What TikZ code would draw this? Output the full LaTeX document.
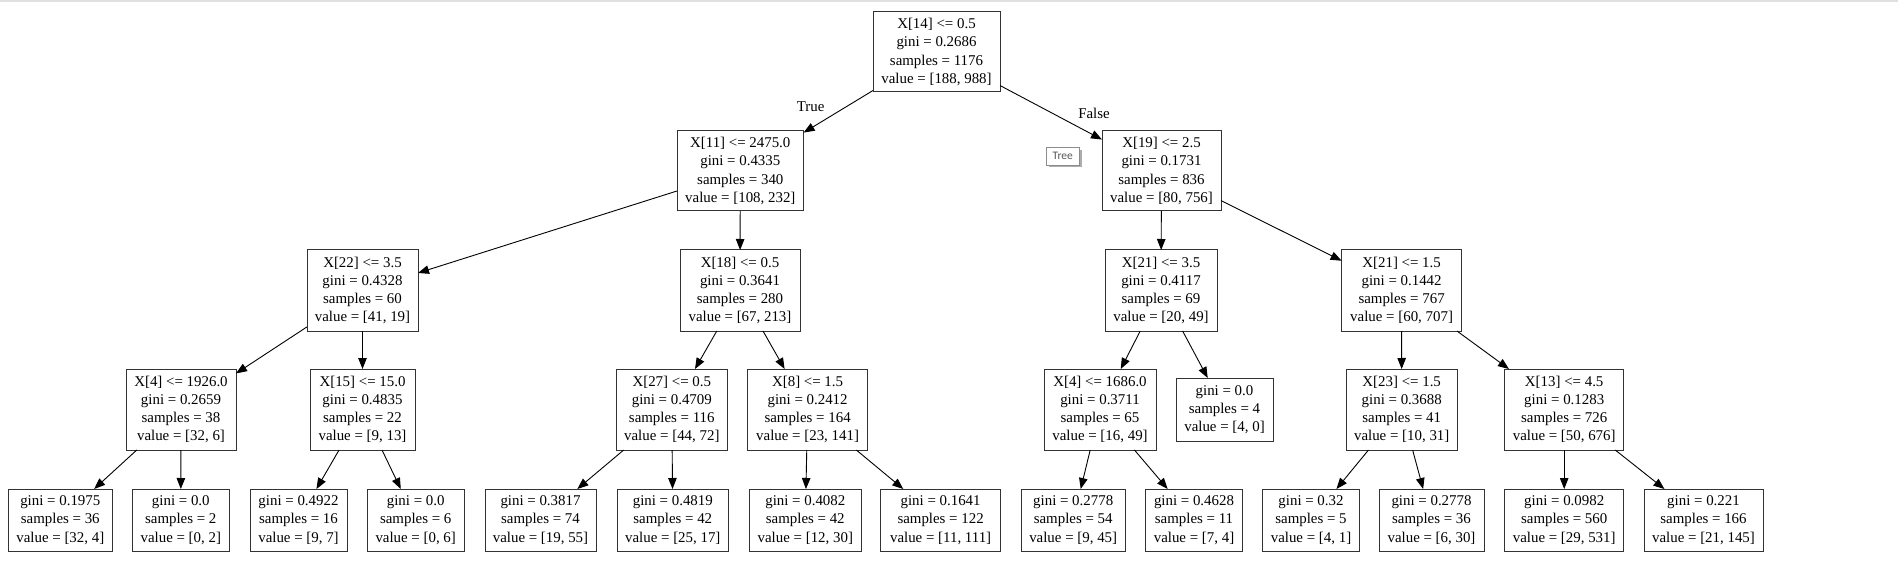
\documentclass[tikz,border=0pt]{standalone}
\usepackage{fontspec}
\setmainfont{Liberation Serif}
\newfontfamily\tipfont{Carlito}
\usetikzlibrary{arrows.meta,shadows}
\definecolor{boxline}{HTML}{333333}
\definecolor{tiptext}{HTML}{575757}
\begin{document}
\begin{tikzpicture}[x=1pt,y=-1pt,
  tbox/.style={draw=boxline, line width=1pt, rectangle, inner sep=0pt, outer sep=0pt,
    align=center, font=\fontsize{14.9}{18.2}\selectfont, minimum height=81pt},
  lbox/.style={tbox, minimum height=62pt},
  edge/.style={draw=black, line width=0.9pt, -{Triangle[length=11pt,width=8.5pt]}},
  elabel/.style={font=\fontsize{14.9}{18.2}\selectfont, inner sep=0pt},
  tooltip/.style={draw=black!45, line width=0.8pt, fill=white, inner sep=0pt,
    minimum width=33.3pt, minimum height=17.3pt, text=tiptext,
    font=\tipfont\fontsize{11.5}{13}\selectfont,
    drop shadow={shadow xshift=2.5pt, shadow yshift=-2.5pt, fill=black!40, opacity=0.8}}]
\useasboundingbox (0,0) rectangle (1898,561);
\draw[black!12, line width=1.5pt] (0,1) -- (1898,1);

% level 0
\node[tbox, minimum width=127pt, minimum height=80pt] (root) at (936.5,52) {X[14] <= 0.5\\gini = 0.2686\\samples = 1176\\value = [188, 988]};
% level 1
\node[tbox, minimum width=126.6pt, minimum height=80pt] (n11) at (740.3,171) {X[11] <= 2475.0\\gini = 0.4335\\samples = 340\\value = [108, 232]};
\node[tbox, minimum width=119pt, minimum height=80pt] (n19) at (1161.5,171) {X[19] <= 2.5\\gini = 0.1731\\samples = 836\\value = [80, 756]};
% level 2
\node[tbox, minimum width=111pt] (n22) at (362.5,290.5) {X[22] <= 3.5\\gini = 0.4328\\samples = 60\\value = [41, 19]};
\node[tbox, minimum width=120pt] (n18) at (740,290.5) {X[18] <= 0.5\\gini = 0.3641\\samples = 280\\value = [67, 213]};
\node[tbox, minimum width=112pt] (n21a) at (1161,290.5) {X[21] <= 3.5\\gini = 0.4117\\samples = 69\\value = [20, 49]};
\node[tbox, minimum width=120pt] (n21b) at (1401.6,290.5) {X[21] <= 1.5\\gini = 0.1442\\samples = 767\\value = [60, 707]};
% level 3
\node[tbox, minimum width=110pt] (n4a) at (181,409.5) {X[4] <= 1926.0\\gini = 0.2659\\samples = 38\\value = [32, 6]};
\node[tbox, minimum width=105pt] (n15) at (362.5,409.5) {X[15] <= 15.0\\gini = 0.4835\\samples = 22\\value = [9, 13]};
\node[tbox, minimum width=110.5pt] (n27) at (671.8,409.5) {X[27] <= 0.5\\gini = 0.4709\\samples = 116\\value = [44, 72]};
\node[tbox, minimum width=119.6pt] (n8) at (807.6,409.5) {X[8] <= 1.5\\gini = 0.2412\\samples = 164\\value = [23, 141]};
\node[tbox, minimum width=112pt] (n4b) at (1100,409.5) {X[4] <= 1686.0\\gini = 0.3711\\samples = 65\\value = [16, 49]};
\node[lbox, minimum width=97pt, minimum height=63pt] (l4) at (1224.5,409.5) {gini = 0.0\\samples = 4\\value = [4, 0]};
\node[tbox, minimum width=111.4pt] (n23) at (1401.7,409.5) {X[23] <= 1.5\\gini = 0.3688\\samples = 41\\value = [10, 31]};
\node[tbox, minimum width=119.5pt] (n13) at (1564.2,409.5) {X[13] <= 4.5\\gini = 0.1283\\samples = 726\\value = [50, 676]};
% level 4
\node[lbox, minimum width=104.5pt] (la) at (60.3,520) {gini = 0.1975\\samples = 36\\value = [32, 4]};
\node[lbox, minimum width=96.4pt] (lb) at (180.8,520) {gini = 0.0\\samples = 2\\value = [0, 2]};
\node[lbox, minimum width=97pt] (lc) at (298.5,520) {gini = 0.4922\\samples = 16\\value = [9, 7]};
\node[lbox, minimum width=96.6pt] (ld) at (415.7,520) {gini = 0.0\\samples = 6\\value = [0, 6]};
\node[lbox, minimum width=111pt] (le) at (540.5,520) {gini = 0.3817\\samples = 74\\value = [19, 55]};
\node[lbox, minimum width=111.6pt] (lf) at (672.8,520) {gini = 0.4819\\samples = 42\\value = [25, 17]};
\node[lbox, minimum width=111.4pt] (lg) at (805.3,520) {gini = 0.4082\\samples = 42\\value = [12, 30]};
\node[lbox, minimum width=119.6pt] (lh) at (940.6,520) {gini = 0.1641\\samples = 122\\value = [11, 111]};
\node[lbox, minimum width=104.4pt] (li) at (1073.2,520) {gini = 0.2778\\samples = 54\\value = [9, 45]};
\node[lbox, minimum width=97pt] (lj) at (1194,520) {gini = 0.4628\\samples = 11\\value = [7, 4]};
\node[lbox, minimum width=96.2pt] (lk) at (1311,520) {gini = 0.32\\samples = 5\\value = [4, 1]};
\node[lbox, minimum width=105pt] (ll) at (1431.5,520) {gini = 0.2778\\samples = 36\\value = [6, 30]};
\node[lbox, minimum width=119.5pt] (lm) at (1564.2,520) {gini = 0.0982\\samples = 560\\value = [29, 531]};
\node[lbox, minimum width=119pt] (ln) at (1703.5,520) {gini = 0.221\\samples = 166\\value = [21, 145]};

% edge labels
\node[elabel] (tlab) at (810.7,106.5) {True};
\node[elabel] (flab) at (1094,113) {False};

% edges
\draw[edge] (root) -- (n11);
\draw[edge] (root) -- (n19);
\draw[edge] (n11) -- (n22);
\draw[edge] (n11) -- (n18);
\draw[edge] (n22) -- (n4a);
\draw[edge] (n22) -- (n15);
\draw[edge] (n4a) -- (la);
\draw[edge] (n4a) -- (lb);
\draw[edge] (n15) -- (lc);
\draw[edge] (n15) -- (ld);
\draw[edge] (n18) -- (n27);
\draw[edge] (n18) -- (n8);
\draw[edge] (n27) -- (le);
\draw[edge] (n27) -- (lf);
\draw[edge] (n8) -- (lg);
\draw[edge] (n8) -- (lh);
\draw[edge] (n19) -- (n21a);
\draw[edge] (n19) -- (n21b);
\draw[edge] (n21a) -- (n4b);
\draw[edge] (n21a) -- (l4);
\draw[edge] (n4b) -- (li);
\draw[edge] (n4b) -- (lj);
\draw[edge] (n21b) -- (n23);
\draw[edge] (n21b) -- (n13);
\draw[edge] (n23) -- (lk);
\draw[edge] (n23) -- (ll);
\draw[edge] (n13) -- (lm);
\draw[edge] (n13) -- (ln);

% tooltip
\node[tooltip] (tip) at (1062.7,156.3) {Tree};
\end{tikzpicture}
\end{document}
